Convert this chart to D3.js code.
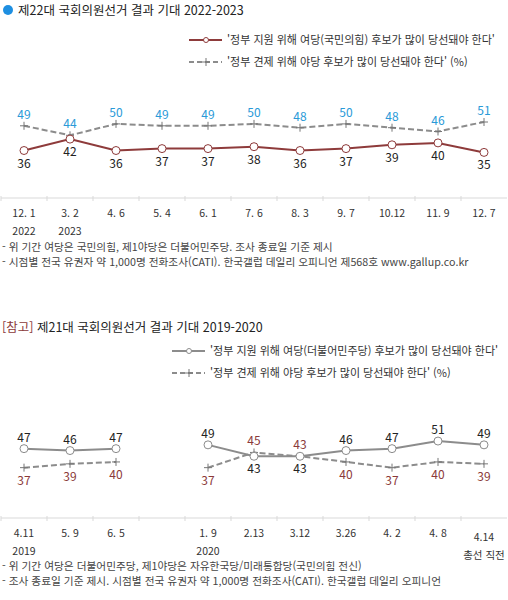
<!DOCTYPE html>
<html lang="ko">
  <head>
    <meta charset="UTF-8">
    <title>국회의원선거 결과 기대</title>
    <script src="https://cdn.jsdelivr.net/npm/d3@7"></script>
    <style>
      html, body { margin: 0; padding: 0; background: #fff; }
      body { font-family: 'Noto Sans CJK KR', 'Noto Sans', sans-serif; }
      svg { display: block; }
      .axis-line { stroke: #d9d9d9; stroke-width: 1; }
      .tick-label { font-size: 10.5px; fill: #333; }
      .note { font-size: 10.7px; fill: #444; }
      .legend-text { font-size: 11px; fill: #333; }
      .value { font-size: 12px; }
    </style>
  </head>
  <body>
    <script>
      // 제22대 (2022-2023)
      const datesTop = ["12. 1", "3. 2", "4. 6", "5. 4", "6. 1", "7. 6", "8. 3", "9. 7", "10.12", "11. 9", "12. 7"];
      const subTop = ["2022", "2023", "", "", "", "", "", "", "", "", ""];
      const rulingTop = [36, 42, 36, 37, 37, 38, 36, 37, 39, 40, 35];
      const oppTop = [49, 44, 50, 49, 49, 50, 48, 50, 48, 46, 51];

      // 제21대 (2019-2020)
      const datesBottom = ["4.11", "5. 9", "6. 5", "", "1. 9", "2.13", "3.12", "3.26", "4. 2", "4. 8", "4.14"];
      const subBottom = ["2019", "", "", "", "2020", "", "", "", "", "", "총선 직전"];
      const rulingBottom = [47, 46, 47, null, 49, 43, 43, 46, 47, 51, 49];
      const oppBottom = [37, 39, 40, null, 37, 45, 43, 40, 37, 40, 39];

      const legendTop = ["'정부 지원 위해 여당(국민의힘) 후보가 많이 당선돼야 한다'", "'정부 견제 위해 야당 후보가 많이 당선돼야 한다' (%)"];
      const legendBottom = ["'정부 지원 위해 여당(더불어민주당) 후보가 많이 당선돼야 한다'", "'정부 견제 위해 야당 후보가 많이 당선돼야 한다' (%)"];
      const notesTop = ["- 위 기간 여당은 국민의힘, 제1야당은 더불어민주당. 조사 종료일 기준 제시",
        "- 시점별 전국 유권자 약 1,000명 전화조사(CATI). 한국갤럽 데일리 오피니언 제568호 www.gallup.co.kr"];
      const notesBottom = ["- 위 기간 여당은 더불어민주당, 제1야당은 자유한국당/미래통합당(국민의힘 전신)",
        "- 조사 종료일 기준 제시. 시점별 전국 유권자 약 1,000명 전화조사(CATI). 한국갤럽 데일리 오피니언"];

      const width = 508, height = 600;
      const svg = d3.select("body").append("svg")
        .attr("width", width)
        .attr("height", height);

      // titles
      svg.append("circle").attr("cx", 8).attr("cy", 10).attr("r", 5).attr("fill", "#1e8fe1");
      svg.append("text").attr("x", 18).attr("y", 15)
        .attr("font-size", 12.5).attr("fill", "#222")
        .text("제22대 국회의원선거 결과 기대 2022-2023");

      const t2 = svg.append("text").attr("x", 2).attr("y", 332).attr("font-size", 12.5).attr("fill", "#222");
      t2.append("tspan").attr("fill", "#8b3a3a").text("[참고]");
      t2.append("tspan").text(" 제21대 국회의원선거 결과 기대 2019-2020");

      function plus(g, x, y, color) {
        g.append("path")
          .attr("d", `M${x - 4},${y}H${x + 4}M${x},${y - 4}V${y + 4}`)
          .attr("stroke", color).attr("stroke-width", 1).attr("fill", "none");
      }

      function legend(x, y, texts, solidColor, dotColor) {
        const g = svg.append("g").attr("transform", `translate(${x},${y})`);
        g.append("line").attr("x1", 0).attr("x2", 33).attr("y1", 0).attr("y2", 0)
          .attr("stroke", solidColor).attr("stroke-width", 2);
        g.append("circle").attr("cx", 17).attr("cy", 0).attr("r", 2.5)
          .attr("fill", "#fff").attr("stroke", dotColor).attr("stroke-width", 1);
        g.append("text").attr("class", "legend-text").attr("x", 38).attr("y", 4).text(texts[0]);
        g.append("line").attr("x1", 0).attr("x2", 33).attr("y1", 22).attr("y2", 22)
          .attr("stroke", "#8c8c8c").attr("stroke-width", 2).attr("stroke-dasharray", "5,3");
        plus(g, 17, 22, "#777");
        g.append("text").attr("class", "legend-text").attr("x", 38).attr("y", 26).text(texts[1]);
      }

      legend(189, 40, legendTop, "#8e3b3b", "#8e3b3b");
      legend(172, 351, legendBottom, "#8c8c8c", "#8c8c8c");

      function chart(opts) {
        const x = d3.scaleBand().domain(d3.range(opts.dates.length)).range([1, 507]).paddingInner(0);
        const y = d3.scaleLinear().domain(opts.domain).range([opts.axisY, opts.axisY - 95]);
        const cx = (i) => x(i) + x.bandwidth() / 2;
        const g = svg.append("g");

        // axis
        const axis = d3.axisBottom(x).tickSize(0).tickFormat("");
        const ga = g.append("g").attr("transform", `translate(0,${opts.axisY})`).call(axis);
        ga.select(".domain").remove();
        g.append("line").attr("class", "axis-line")
          .attr("x1", 1).attr("x2", 507).attr("y1", opts.axisY).attr("y2", opts.axisY);
        g.selectAll(".sep").data(d3.range(opts.dates.length)).enter().append("line")
          .attr("class", "axis-line")
          .attr("x1", (i) => x(i)).attr("x2", (i) => x(i))
          .attr("y1", opts.axisY - 2).attr("y2", opts.axisY + 3);

        const last = opts.dates.length - 1;
        g.selectAll(".date").data(opts.dates).enter().append("text")
          .attr("class", "tick-label").attr("text-anchor", "middle")
          .attr("x", (d, i) => cx(i))
          .attr("y", (d, i) => opts.axisY + 19 + (opts.lowLast && i === last ? 4 : 0))
          .text((d) => d);
        g.selectAll(".sub").data(opts.sub).enter().append("text")
          .attr("class", "tick-label").attr("text-anchor", "middle")
          .attr("x", (d, i) => cx(i))
          .attr("y", (d, i) => opts.axisY + 37 + (opts.lowLast && i === last ? 4 : 0))
          .text((d) => d);

        const line = d3.line()
          .defined((d) => d != null)
          .x((d, i) => cx(i))
          .y((d) => y(d));

        // dashed (opposition)
        g.append("path").datum(opts.opp)
          .attr("d", line).attr("fill", "none")
          .attr("stroke", "#8c8c8c").attr("stroke-width", 2).attr("stroke-dasharray", "6,3");
        opts.opp.forEach((v, i) => { if (v != null) plus(g, cx(i), y(v), "#777"); });

        // solid (ruling)
        g.append("path").datum(opts.ruling)
          .attr("d", line).attr("fill", "none")
          .attr("stroke", opts.solidColor).attr("stroke-width", 2);
        g.selectAll(".dot").data(opts.ruling.map((v, i) => [v, i]).filter((d) => d[0] != null))
          .enter().append("circle")
          .attr("cx", (d) => cx(d[1])).attr("cy", (d) => y(d[0])).attr("r", 4)
          .attr("fill", "#fff").attr("stroke", opts.solidColor).attr("stroke-width", 1);

        // value labels: higher series above, lower below
        opts.ruling.forEach((v, i) => {
          if (v == null) return;
          const o = opts.opp[i];
          const above = v > o;
          g.append("text").attr("class", "value").attr("text-anchor", "middle")
            .attr("x", cx(i)).attr("y", y(v) + (above ? -7 : 17))
            .attr("fill", opts.rulingLabel).text(v);
          g.append("text").attr("class", "value").attr("text-anchor", "middle")
            .attr("x", cx(i)).attr("y", y(o) + (above ? 17 : -7))
            .attr("fill", opts.oppLabel).text(o);
        });

        g.selectAll(".note").data(opts.notes).enter().append("text")
          .attr("class", "note").attr("x", 2)
          .attr("y", (d, i) => opts.notesY + i * 15)
          .text((d) => d);
      }

      chart({
        dates: datesTop, sub: subTop, ruling: rulingTop, opp: oppTop,
        domain: [11, 61], axisY: 198, solidColor: "#8e3b3b",
        rulingLabel: "#222", oppLabel: "#2a9ad8",
        notes: notesTop, notesY: 250.5, lowLast: false
      });

      chart({
        dates: datesBottom, sub: subBottom, ruling: rulingBottom, opp: oppBottom,
        domain: [10.5, 60.5], axisY: 518, solidColor: "#8c8c8c",
        rulingLabel: "#222", oppLabel: "#8b3a3a",
        notes: notesBottom, notesY: 569.5, lowLast: true
      });
    </script>
  </body>
</html>
